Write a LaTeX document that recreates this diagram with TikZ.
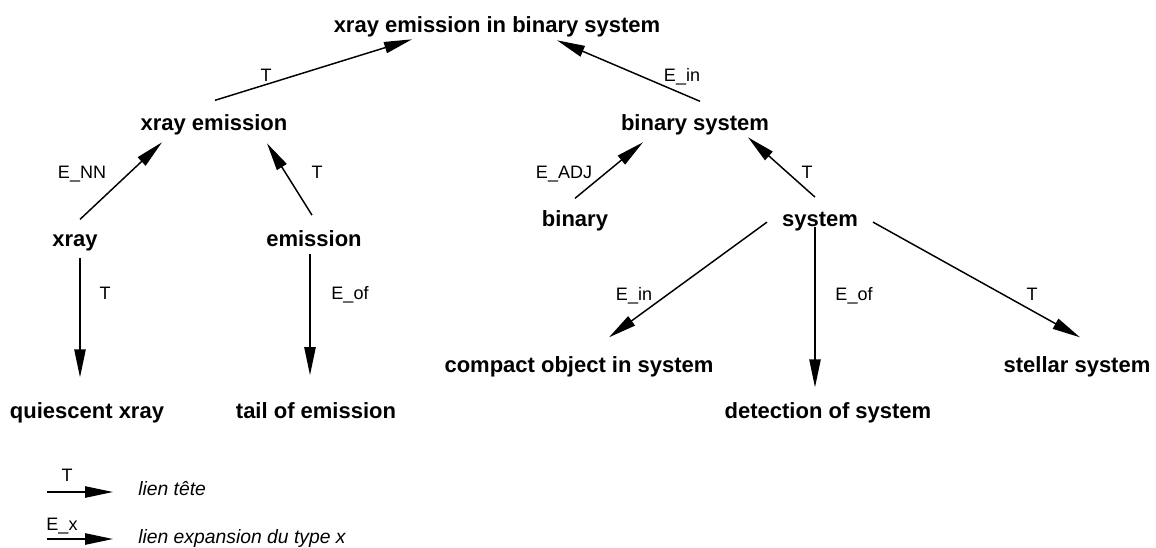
\documentclass[tikz,border=0pt]{standalone}
\usepackage{fontspec}
\setmainfont{Liberation Sans}
\usetikzlibrary{arrows.meta,calc}
\tikzset{
  term/.style={font=\fontsize{16.5}{18}\selectfont\bfseries, inner sep=0pt, anchor=base},
  lbl/.style={font=\fontsize{13.5}{15}\selectfont, inner sep=0pt, anchor=base},
  leg/.style={font=\fontsize{14.5}{16}\selectfont\itshape, inner sep=0pt, anchor=base west},
  arr/.style={line width=1.1pt, -{Triangle[length=21pt,width=8.5pt]}},
}
\begin{document}
\begin{tikzpicture}[x=0.75pt,y=-0.75pt]
\useasboundingbox (0,0) rectangle (1156,547);
% nodes (positioned by base line)
\node[term] (top) at (497,32) {xray emission in binary system};
\node[term] (xe) at (214,130) {xray emission};
\node[term] (bs) at (695,130) {binary system};
\node[term] (xray) at (75,246) {xray};
\node[term] (em) at (314,246) {emission};
\node[term] (bin) at (575,226) {binary};
\node[term] (sys) at (820,226) {system};
\node[term] (qx) at (87,418) {quiescent xray};
\node[term] (tail) at (316,418) {tail of emission};
\node[term] (cmp) at (579,372) {compact object in system};
\node[term] (det) at (828,418) {detection of system};
\node[term] (st) at (1077,372) {stellar system};
% connectors
\draw[arr] ($(xe)+(1,-24)$) -- ($(top)+(-85,13)$);
\draw[arr] ($(bs)+(5,-23)$) -- ($(top)+(60,14)$);
\draw[arr] ($(xray)+(5,-23)$) -- ($(xe)+(-52,18)$);
\draw[arr] ($(em)+(-2,-23)$) -- ($(xe)+(53,19)$);
\draw[arr] ($(bin)+(0,-22)$) -- ($(bs)+(-52,18)$);
\draw[arr] ($(sys)+(-5,-24)$) -- ($(bs)+(53,13)$);
\draw[arr] ($(xray)+(5,16)$) -- ($(qx)+(-7,-35)$);
\draw[arr] ($(em)+(-4,16)$) -- ($(tail)+(-6,-35)$);
\draw[arr] ($(sys)+(-53,1)$) -- ($(cmp)+(30,-29)$);
\draw[arr] ($(sys)+(-5,6)$) -- ($(det)+(-13,-25)$);
\draw[arr] ($(sys)+(53,1)$) -- ($(st)+(3,-29)$);
% edge labels
\node[lbl] (l1) at (266,81) {T};
\node[lbl] (l2) at (682,81) {E\_in};
\node[lbl] (l3) at (82,178) {E\_NN};
\node[lbl] (l4) at (317,178) {T};
\node[lbl] (l5) at (564,178) {E\_ADJ};
\node[lbl] (l6) at (807,178) {T};
\node[lbl] (l7) at (105,299) {T};
\node[lbl] (l8) at (350,299) {E\_of};
\node[lbl] (l9) at (634,300) {E\_in};
\node[lbl] (l10) at (854,300) {E\_of};
\node[lbl] (l11) at (1032,300) {T};
% legend
\coordinate (a1) at (47,492);
\coordinate (b1) at (113,492);
\coordinate (a2) at (47,539);
\coordinate (b2) at (113,539);
\draw[arr] (a1) -- (b1);
\draw[arr] (a2) -- (b2);
\node[lbl] (lt) at (67,481) {T};
\node[lbl] (le) at (62,530) {E\_x};
\node[leg] (g1) at (138,495) {lien tête};
\node[leg] (g2) at (138,543) {lien expansion du type x};
\end{tikzpicture}
\end{document}
